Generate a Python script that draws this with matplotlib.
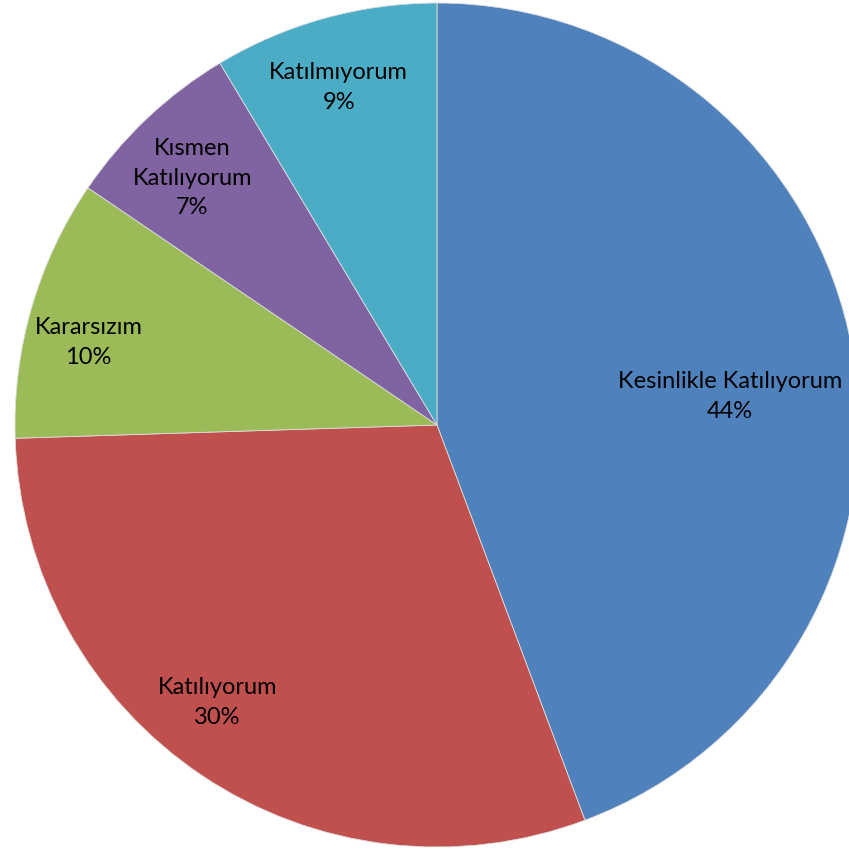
import matplotlib.pyplot as plt

# answers (share of responses, %)
categories = ["Kesinlikle Katılıyorum", "Katılıyorum", "Kararsızım",
              "Kısmen\nKatılıyorum", "Katılmıyorum"]
values = [44.3, 30.2, 10.0, 6.9, 8.6]
colors = ["#4F81BD", "#C0504D", "#9BBB59", "#8064A2", "#4BACC6"]

# label spots (x, y in pie radius units), Excel "best fit" look
label_pos = [(0.695, 0.067), (-0.520, -0.657), (-0.826, 0.195),
             (-0.580, 0.585), (-0.233, 0.800)]

W = 849
R = 422.0   # pie radius in px
cx, cy = 437.0, 425.0

fig = plt.figure(figsize=(W / 100, W / 100), dpi=100)
ax = fig.add_axes([0, 0, 1, 1])
ax.axis("off")

wedges, _ = ax.pie(values, colors=colors, startangle=90, counterclock=False,
                   radius=1.0, wedgeprops=dict(edgecolor="#dddddd", linewidth=0.6))

ax.set_xlim(-cx / R, (W - cx) / R)
ax.set_ylim(-(W - cy) / R, cy / R)
ax.set_aspect("equal")

tot = sum(values)
for name, v, (x, y) in zip(categories, values, label_pos):
    ax.text(x, y, "%s\n%.0f%%" % (name, 100 * v / tot), ha="center", va="center",
            fontsize=17, family="Lato", linespacing=1.5, color="black")

fig.savefig("out.png", dpi=100)
